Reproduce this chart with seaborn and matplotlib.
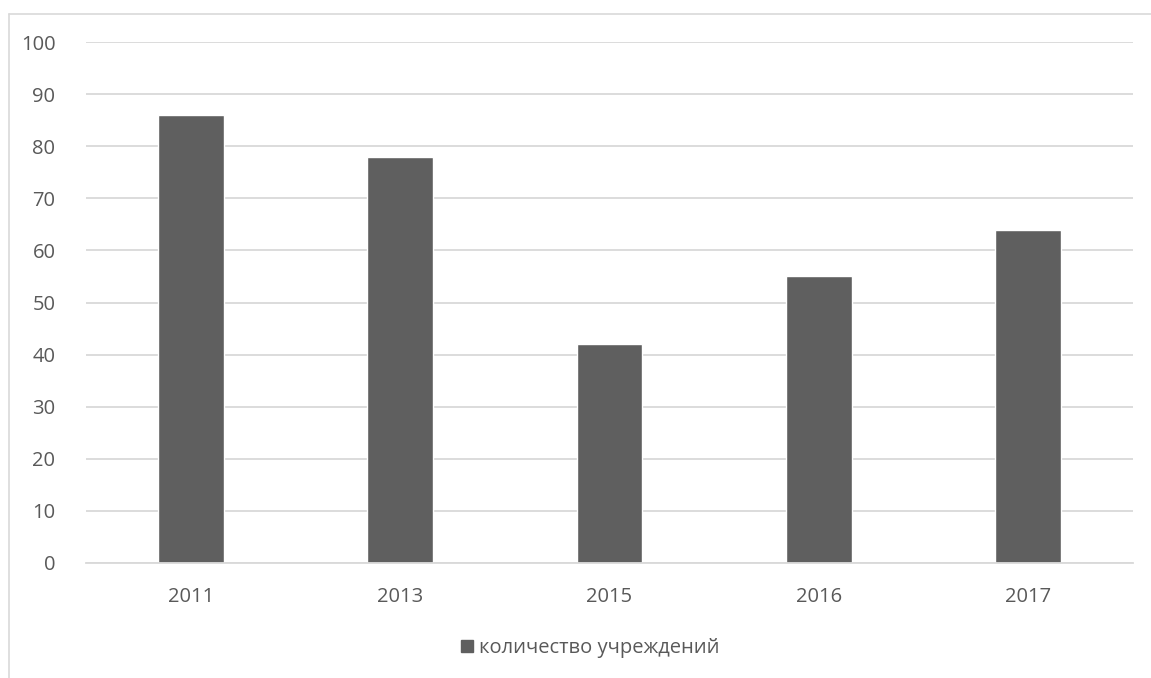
import matplotlib
matplotlib.use("Agg")
import matplotlib.pyplot as plt
import seaborn as sns
import pandas as pd
from matplotlib.lines import Line2D
from matplotlib.patches import Patch

years = ["2011", "2013", "2015", "2016", "2017"]
counts = [86, 78, 42, 55, 64]
series_name = "количество учреждений"

df = pd.DataFrame({"year": years, "count": counts})

sns.set_style("white")
plt.rcParams["font.family"] = ["Open Sans", "DejaVu Sans"]

text_color = "#595959"
bar_color = "#5f5f5f"
grid_color = "#d9d9d9"

W, H = 1151, 678
fig = plt.figure(figsize=(W / 100, H / 100), dpi=100)
ax = fig.add_axes([86 / W, 1 - 563 / H, (1133 - 86) / W, (563 - 42) / H])

sns.barplot(data=df, x="year", y="count", color=bar_color, width=0.315,
            saturation=1, ax=ax)

ax.set_ylim(0, 100)
ax.set_yticks(range(0, 101, 10))
ax.set_xlim(-0.5, len(years) - 0.5)
ax.yaxis.grid(True, color=grid_color, linewidth=1.3)
ax.set_axisbelow(True)
for s in ["top", "right", "left"]:
    ax.spines[s].set_visible(False)
ax.spines["bottom"].set_color(grid_color)
ax.spines["bottom"].set_linewidth(1.3)
ax.set_xlabel("")
ax.set_ylabel("")
ax.tick_params(axis="both", length=0, labelsize=14.5, labelcolor=text_color)
ax.tick_params(axis="y", pad=22)
ax.tick_params(axis="x", pad=17)

# outer chart border (cropped on right and bottom)
fig.add_artist(Line2D([9 / W, 1.0], [1 - 14 / H, 1 - 14 / H],
                      transform=fig.transFigure, color=grid_color, linewidth=1.2))
fig.add_artist(Line2D([9 / W, 9 / W], [0, 1 - 14 / H],
                      transform=fig.transFigure, color=grid_color, linewidth=1.2))

handles = [Patch(facecolor=bar_color, edgecolor=bar_color, label=series_name)]
fig.legend(handles=handles, loc="center", bbox_to_anchor=(590 / W, 1 - 648 / H),
           frameon=False, fontsize=14.5, labelcolor=text_color,
           handlelength=0.6, handleheight=0.6, handletextpad=0.3)

fig.savefig("out.png", dpi=100)
